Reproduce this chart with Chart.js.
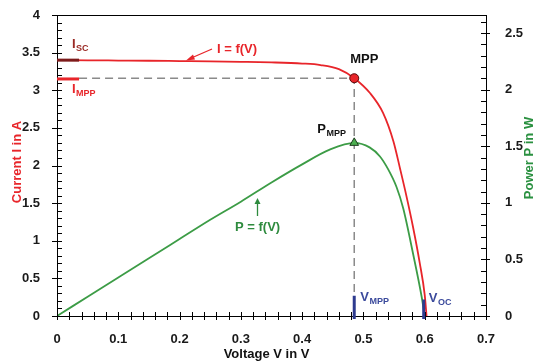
<!DOCTYPE html>
<html>
<head>
<meta charset="utf-8">
<script src="https://cdn.jsdelivr.net/npm/chart.js@4.4.1/dist/chart.umd.min.js"></script>
<style>
  html, body { margin: 0; padding: 0; background: #fff; }
  #wrap { width: 534px; height: 362px; }
</style>
</head>
<body>
<div id="wrap"><canvas id="myChart" width="534" height="362"></canvas></div>
<script>
// I-V curve of the cell
var voltageI = [0, 0.05, 0.1, 0.15, 0.2, 0.25, 0.3, 0.35, 0.4, 0.43, 0.46, 0.485, 0.511, 0.532, 0.549, 0.56, 0.57, 0.581, 0.592, 0.6, 0.603];
var currentI = [3.40, 3.398, 3.395, 3.392, 3.388, 3.384, 3.378, 3.37, 3.355, 3.335, 3.28, 3.16, 2.96, 2.70, 2.32, 1.95, 1.60, 1.18, 0.70, 0.28, 0];

// P-V curve
var voltageP = [0, 0.05, 0.1, 0.15, 0.2, 0.25, 0.3, 0.35, 0.4, 0.445, 0.485, 0.51, 0.527, 0.54, 0.554, 0.565, 0.581, 0.595, 0.6];
var powerP = [0, 0.17, 0.34, 0.51, 0.68, 0.85, 1.01, 1.18, 1.34, 1.47, 1.53, 1.49, 1.41, 1.30, 1.14, 0.95, 0.55, 0.17, 0];

// characteristic points
var vMpp = 0.485, iMpp = 3.16, pMpp = 1.53;
var iSc = 3.40, vOc = 0.6;

var RED = "#e8252a";
var GREEN = "#3c9c46";
var BLUE = "#2e3b8f";

function toPoints(xs, ys) {
  return xs.map(function (v, i) { return { x: v, y: ys[i] }; });
}

function fmt(v) {
  return String(Math.round(v * 10) / 10);
}

function fitY(w) {
  return function (s) {
    s.width = w;
    s.paddingTop = 0;
    s.paddingBottom = 0;
  };
}

var annotate = {
  id: "annotate",
  beforeDatasetsDraw: function (chart) {
    var ctx = chart.ctx, x = chart.scales.x, y = chart.scales.y;
    // dashed guide lines to MPP
    ctx.save();
    ctx.strokeStyle = "#8a8a8a";
    ctx.lineWidth = 1.5;
    ctx.setLineDash([8, 5]);
    ctx.beginPath();
    ctx.moveTo(x.getPixelForValue(0.036), y.getPixelForValue(iMpp));
    ctx.lineTo(x.getPixelForValue(vMpp), y.getPixelForValue(iMpp));
    ctx.lineTo(x.getPixelForValue(vMpp), y.getPixelForValue(0.27));
    ctx.stroke();
    ctx.restore();
  },
  afterDraw: function (chart) {
    var ctx = chart.ctx, a = chart.chartArea;
    var x = chart.scales.x, y = chart.scales.y, y1 = chart.scales.y1;
    var i, px, py;
    ctx.save();

    // frame
    ctx.strokeStyle = "#000";
    ctx.lineWidth = 1;
    ctx.strokeRect(a.left + 0.5, a.top + 0.5, a.right - a.left, a.bottom - a.top);

    // x ticks every 0.02
    ctx.beginPath();
    for (i = 0; i <= 35; i++) {
      px = Math.round(x.getPixelForValue(i * 0.02)) + 0.5;
      ctx.moveTo(px, a.bottom - 4);
      ctx.lineTo(px, a.bottom + 4);
    }
    // left ticks every 0.1
    for (i = 0; i <= 40; i++) {
      py = Math.round(y.getPixelForValue(i * 0.1)) + 0.5;
      ctx.moveTo(i % 5 === 0 ? a.left - 5 : a.left, py);
      ctx.lineTo(a.left + 5, py);
    }
    // right ticks every 0.1
    for (i = 0; i <= 26; i++) {
      py = Math.round(y1.getPixelForValue(i * 0.1)) + 0.5;
      ctx.moveTo(a.right - 5, py);
      ctx.lineTo(i % 5 === 0 ? a.right + 4 : a.right, py);
    }
    ctx.stroke();

    // Isc and Impp markers on left axis
    var x0 = x.getPixelForValue(0), xs = x.getPixelForValue(0.036);
    ctx.lineWidth = 3;
    ctx.strokeStyle = "#7d1b1b";
    ctx.beginPath();
    ctx.moveTo(x0, y.getPixelForValue(iSc));
    ctx.lineTo(xs, y.getPixelForValue(iSc));
    ctx.stroke();
    ctx.strokeStyle = RED;
    ctx.beginPath();
    ctx.moveTo(x0, y.getPixelForValue(3.15));
    ctx.lineTo(xs, y.getPixelForValue(3.15));
    ctx.stroke();

    // Vmpp and Voc markers on x axis
    ctx.strokeStyle = BLUE;
    ctx.lineWidth = 3;
    ctx.beginPath();
    ctx.moveTo(x.getPixelForValue(vMpp), y.getPixelForValue(0.27));
    ctx.lineTo(x.getPixelForValue(vMpp), a.bottom + 3);
    ctx.moveTo(x.getPixelForValue(vOc) - 1, y.getPixelForValue(0.22));
    ctx.lineTo(x.getPixelForValue(vOc) - 1, a.bottom + 3);
    ctx.stroke();

    // labels with subscripts
    function sub(main, s, lx, ly, color) {
      ctx.fillStyle = color;
      ctx.textAlign = "left";
      ctx.textBaseline = "alphabetic";
      ctx.font = "bold 13px 'Liberation Sans', Arial, sans-serif";
      ctx.fillText(main, lx, ly);
      var w = ctx.measureText(main).width;
      ctx.font = "bold 9px 'Liberation Sans', Arial, sans-serif";
      ctx.fillText(s, lx + w + 0.5, ly + 3);
    }
    var ySc = y.getPixelForValue(iSc), yMp = y.getPixelForValue(iMpp);
    sub("I", "SC", x0 + 15, ySc - 12, "#9a2a25");
    sub("I", "MPP", x0 + 15, ySc + 33, RED);
    var xm = x.getPixelForValue(vMpp);
    var ypm = y1.getPixelForValue(pMpp);
    sub("P", "MPP", xm - 37, ypm - 10, "#111");
    sub("V", "MPP", xm + 6, a.bottom - 15, "#3b4a9c");
    sub("V", "OC", x.getPixelForValue(vOc) + 4, a.bottom - 14, "#3b4a9c");

    ctx.font = "bold 13px 'Liberation Sans', Arial, sans-serif";
    ctx.fillStyle = "#111";
    ctx.fillText("MPP", xm - 4, yMp - 15);

    // I = f(V) with arrow
    ctx.fillStyle = RED;
    ctx.fillText("I = f(V)", 217, 53);
    ctx.strokeStyle = RED;
    ctx.lineWidth = 1.3;
    ctx.beginPath();
    ctx.moveTo(212, 49);
    ctx.lineTo(189, 59);
    ctx.stroke();
    ctx.fillStyle = RED;
    ctx.beginPath();
    ctx.moveTo(186, 60.5);
    ctx.lineTo(193, 54.5);
    ctx.lineTo(195, 59.5);
    ctx.closePath();
    ctx.fill();

    // P = f(V) with arrow
    ctx.fillStyle = "#2e8b3e";
    ctx.fillText("P = f(V)", 235, 231);
    ctx.strokeStyle = "#2e8b3e";
    ctx.beginPath();
    ctx.moveTo(257.5, 216);
    ctx.lineTo(257.5, 202);
    ctx.stroke();
    ctx.beginPath();
    ctx.moveTo(257.5, 198);
    ctx.lineTo(254.5, 204);
    ctx.lineTo(260.5, 204);
    ctx.closePath();
    ctx.fill();

    // axis titles
    ctx.font = "bold 13px 'Liberation Sans', Arial, sans-serif";
    ctx.textAlign = "center";
    ctx.textBaseline = "middle";
    ctx.fillStyle = "#111";
    ctx.fillText("Voltage V in V", (a.left + a.right) / 2 - 5, 354);

    ctx.save();
    ctx.translate(17.5, 162);
    ctx.rotate(-Math.PI / 2);
    ctx.fillStyle = RED;
    ctx.fillText("Current I in A", 0, 0);
    ctx.restore();

    ctx.save();
    ctx.translate(529, 158);
    ctx.rotate(-Math.PI / 2);
    ctx.fillStyle = "#2a9040";
    ctx.fillText("Power P in W", 0, 0);
    ctx.restore();

    ctx.restore();
  }
};

var tickFont = { family: "'Liberation Sans', Arial, sans-serif", size: 13, weight: "bold" };

var ctx = document.getElementById("myChart").getContext("2d");
var myChart = new Chart(ctx, {
  type: "line",
  data: {
    datasets: [
      {
        label: "MPP",
        data: [{ x: vMpp, y: iMpp }],
        yAxisID: "y",
        showLine: false,
        pointStyle: "circle",
        pointRadius: 4.5,
        pointBackgroundColor: RED,
        pointBorderColor: "#5a0a0a",
        pointBorderWidth: 1
      },
      {
        label: "Pmpp",
        data: [{ x: vMpp, y: pMpp }],
        yAxisID: "y1",
        showLine: false,
        pointStyle: "triangle",
        pointRadius: 5,
        pointBackgroundColor: "#4caf50",
        pointBorderColor: "#1d3d1d",
        pointBorderWidth: 1
      },
      {
        label: "I = f(V)",
        data: toPoints(voltageI, currentI),
        yAxisID: "y",
        borderColor: RED,
        borderWidth: 1.8,
        pointRadius: 0,
        cubicInterpolationMode: "monotone",
        fill: false
      },
      {
        label: "P = f(V)",
        data: toPoints(voltageP, powerP),
        yAxisID: "y1",
        borderColor: GREEN,
        borderWidth: 1.8,
        pointRadius: 0,
        cubicInterpolationMode: "monotone",
        fill: false
      }
    ]
  },
  options: {
    responsive: false,
    animation: false,
    devicePixelRatio: 1,
    layout: { padding: { top: 15, left: 0, right: 0, bottom: 0 } },
    plugins: { legend: { display: false }, tooltip: { enabled: false } },
    scales: {
      x: {
        type: "linear",
        min: 0,
        max: 0.7,
        grid: { display: false },
        border: { display: false },
        ticks: { stepSize: 0.1, color: "#1a1a1a", font: tickFont, padding: 8, callback: fmt },
        afterFit: function (s) { s.height = 46; s.paddingLeft = 0; s.paddingRight = 0; }
      },
      y: {
        position: "left",
        min: 0,
        max: 4,
        grid: { display: false },
        border: { display: false },
        ticks: { stepSize: 0.5, color: "#1a1a1a", font: tickFont, padding: 9, callback: fmt },
        afterFit: fitY(57)
      },
      y1: {
        position: "right",
        min: 0,
        max: 2.66,
        grid: { display: false },
        border: { display: false },
        ticks: {
          stepSize: 0.5,
          includeBounds: false,
          color: "#1a1a1a",
          font: tickFont,
          padding: 11,
          callback: function (v) { return Math.abs(v * 2 - Math.round(v * 2)) < 1e-6 ? fmt(v) : ""; }
        },
        afterFit: fitY(48)
      }
    }
  },
  plugins: [annotate]
});
</script>
</body>
</html>
